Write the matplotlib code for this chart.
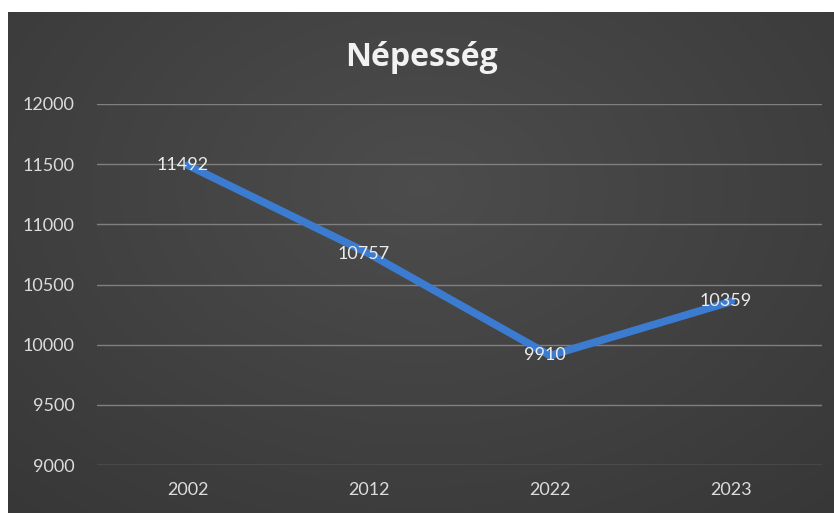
import numpy as np
import matplotlib.pyplot as plt

years = ["2002", "2012", "2022", "2023"]
population = [11492, 10757, 9910, 10359]
y_ticks = [9000, 9500, 10000, 10500, 11000, 11500, 12000]

W, H = 834, 513
fig = plt.figure(figsize=(W / 100, H / 100), dpi=100)
fig.patch.set_facecolor("white")

# dark gradient background (chart area), white strip top/left
bg = fig.add_axes([8 / W, 0, 1 - 8 / W, 1 - 12 / H])
bg.set_axis_off()
yy, xx = np.mgrid[0:1:200j, 0:1:300j]
r = np.sqrt(((xx - 0.5) / 0.8) ** 2 + ((yy - 0.35) / 0.95) ** 2)
shade = 0.30 - 0.09 * np.clip(r, 0, 1.2)
bg.imshow(np.dstack([shade, shade, shade]), aspect="auto", extent=[0, 1, 0, 1],
          origin="upper", interpolation="bilinear")

ax = fig.add_axes([97 / W, 1 - 465 / H, (822 - 97) / W, (465 - 104) / H])
ax.patch.set_alpha(0)
x = np.arange(len(years))
ax.plot(x, population, color="#3b7bd0", lw=5.5, solid_capstyle="round", zorder=3)
for xi, v in zip(x, population):
    ax.text(xi - 0.03, v, str(v), ha="center", va="center", color="#ececec",
            fontsize=13, family="Lato", zorder=4)

ax.set_xlim(-0.5, len(years) - 0.5)
ax.set_ylim(9000, 12000)
ax.set_yticks(y_ticks)
ax.set_xticks(x)
ax.set_xticklabels(years)
ax.grid(axis="y", color="#808080", lw=1)
ax.set_axisbelow(True)
for s in ax.spines.values():
    s.set_visible(False)
ax.tick_params(length=0, colors="#dcdcdc", labelsize=13)
ax.tick_params(axis="y", pad=16)
ax.tick_params(axis="x", pad=12)
for lab in ax.get_xticklabels() + ax.get_yticklabels():
    lab.set_family("Lato")

fig.text(0.505, 1 - 57 / H, "Népesség", ha="center", va="center", color="#f2f2f2",
         fontsize=23, fontweight="bold", family="Open Sans")

fig.savefig("out.png", dpi=100)
